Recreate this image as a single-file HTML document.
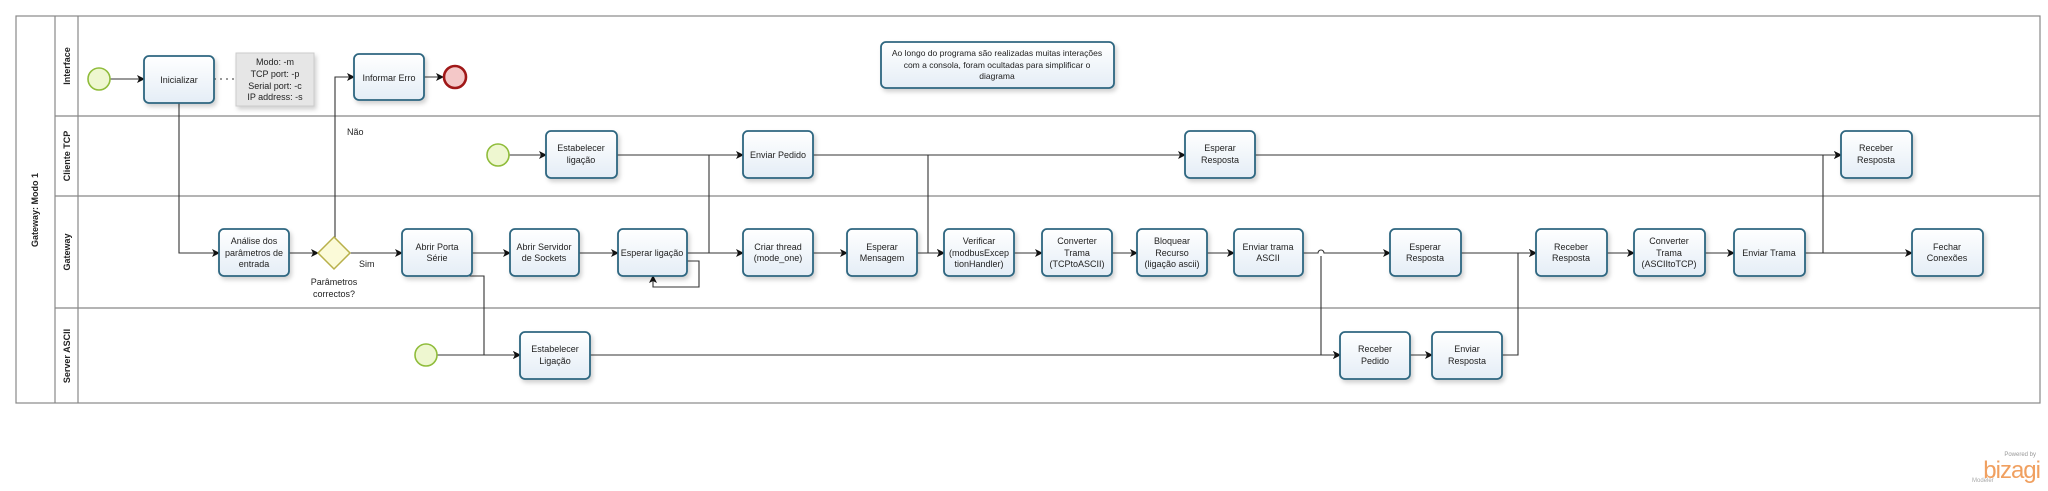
<!DOCTYPE html>
<html><head><meta charset="utf-8"><style>
html,body{margin:0;padding:0;background:#fff;}
svg{display:block;}
text{font-family:"Liberation Sans",sans-serif;font-size:9px;fill:#222;}
.b{fill:url(#g);stroke:#2d6680;stroke-width:1.8;}
.l{fill:none;stroke:#333;stroke-width:1.1;}
.lane{fill:none;stroke:#888;stroke-width:1.2;}
</style></head><body>
<svg width="2048" height="491" viewBox="0 0 2048 491" xmlns="http://www.w3.org/2000/svg">
<defs>
<linearGradient id="g" x1="0" y1="0" x2="0" y2="1"><stop offset="0" stop-color="#ffffff"/><stop offset="1" stop-color="#e4edf6"/></linearGradient>
<marker id="a" markerWidth="8" markerHeight="8" refX="7" refY="4" orient="auto" markerUnits="userSpaceOnUse"><path d="M0,0 L8,4 L0,8 L2,4 z" fill="#111"/></marker>
<filter id="s" x="-20%" y="-20%" width="150%" height="150%"><feDropShadow dx="2" dy="3" stdDeviation="2" flood-color="#000" flood-opacity="0.18"/></filter>
</defs>
<rect x="16" y="16" width="2024" height="387" class="lane"/>
<line x1="55" y1="16" x2="55" y2="403" class="lane"/>
<line x1="78" y1="16" x2="78" y2="403" class="lane"/>
<line x1="55" y1="116" x2="2040" y2="116" class="lane"/>
<line x1="55" y1="196" x2="2040" y2="196" class="lane"/>
<line x1="55" y1="308" x2="2040" y2="308" class="lane"/>
<text transform="translate(38,210) rotate(-90)" text-anchor="middle" style="font-weight:bold">Gateway: Modo 1</text>
<text transform="translate(70,66) rotate(-90)" text-anchor="middle" style="font-weight:bold">Interface</text>
<text transform="translate(70,156) rotate(-90)" text-anchor="middle" style="font-weight:bold">Cliente TCP</text>
<text transform="translate(70,252) rotate(-90)" text-anchor="middle" style="font-weight:bold">Gateway</text>
<text transform="translate(70,356) rotate(-90)" text-anchor="middle" style="font-weight:bold">Server ASCII</text>

<path class="l" d="M110 79 H144" marker-end="url(#a)"/>
<path d="M214 79 H236" stroke="#333" stroke-dasharray="2,4" fill="none"/>
<path class="l" d="M179 103 V253 H219" marker-end="url(#a)"/>
<path class="l" d="M289 253 H318" marker-end="url(#a)"/>
<path class="l" d="M335 238 V77 H354" marker-end="url(#a)"/>
<path class="l" d="M424 77 H443" marker-end="url(#a)"/>
<path class="l" d="M350 253 H402" marker-end="url(#a)"/>
<path class="l" d="M472 253 H510" marker-end="url(#a)"/>
<path class="l" d="M579 253 H618" marker-end="url(#a)"/>
<path class="l" d="M687 261 H699 V287 H653 V276" marker-end="url(#a)"/>
<path class="l" d="M687 253 H743" marker-end="url(#a)"/>
<path class="l" d="M440 276 H484 V355 H520" marker-end="url(#a)"/>
<path class="l" d="M437 355 H520" marker-end="url(#a)"/>
<path class="l" d="M509 155 H546" marker-end="url(#a)"/>
<path class="l" d="M617 155 H743" marker-end="url(#a)"/>
<path class="l" d="M709 155 V253" />
<path class="l" d="M813 155 H1185" marker-end="url(#a)"/>
<path class="l" d="M928 155 V253 H944" marker-end="url(#a)"/>
<path class="l" d="M1255 155 H1841" marker-end="url(#a)"/>
<path class="l" d="M813 253 H847" marker-end="url(#a)"/>
<path class="l" d="M917 253 H944" marker-end="url(#a)"/>
<path class="l" d="M1014 253 H1042" marker-end="url(#a)"/>
<path class="l" d="M1112 253 H1137" marker-end="url(#a)"/>
<path class="l" d="M1207 253 H1234" marker-end="url(#a)"/>
<path class="l" d="M1303 253 H1318 A3 3 0 0 1 1324 253 H1390" marker-end="url(#a)"/>
<path class="l" d="M1321 256 V355 H1340" marker-end="url(#a)"/>
<path class="l" d="M590 355 H1340" marker-end="url(#a)"/>
<path class="l" d="M1410 355 H1432" marker-end="url(#a)"/>
<path class="l" d="M1502 355 H1518 V253 H1536" marker-end="url(#a)"/>
<path class="l" d="M1461 253 H1536" marker-end="url(#a)"/>
<path class="l" d="M1607 253 H1634" marker-end="url(#a)"/>
<path class="l" d="M1705 253 H1734" marker-end="url(#a)"/>
<path class="l" d="M1805 253 H1912" marker-end="url(#a)"/>
<path class="l" d="M1823 253 V155 H1841" marker-end="url(#a)"/>
<path d="M881 264 V276" stroke="#333" stroke-dasharray="1,3"/>

<circle cx="99" cy="79" r="11" fill="#eef7d0" stroke="#8fbc3a" stroke-width="1.6"/>
<circle cx="498" cy="155" r="11" fill="#eef7d0" stroke="#8fbc3a" stroke-width="1.6"/>
<circle cx="426" cy="355" r="11" fill="#eef7d0" stroke="#8fbc3a" stroke-width="1.6"/>
<circle cx="455" cy="77" r="11" fill="#f4c8c8" stroke="#a01818" stroke-width="2.6"/>
<path d="M334 237 L350 253 L334 269 L318 253 z" fill="#fbfad8" stroke="#b8b04a" stroke-width="1.5"/>
<text x="347" y="135">Não</text>
<text x="359" y="267">Sim</text>
<text x="334" y="285" text-anchor="middle">Parâmetros</text>
<text x="334" y="297" text-anchor="middle">correctos?</text>

<rect x="236" y="53" width="78" height="53" fill="#e6e6e6" stroke="#ccc" filter="url(#s)"/>
<g text-anchor="middle"><text x="275" y="65">Modo: -m</text><text x="275" y="77">TCP port: -p</text><text x="275" y="89">Serial port: -c</text><text x="275" y="100">IP address: -s</text></g>
<rect x="881" y="42" width="233" height="46" rx="5" class="b" filter="url(#s)"/>
<g text-anchor="middle" style="font-size:8.5px"><text x="997" y="56" style="font-size:8.5px">Ao longo do programa são realizadas muitas interações</text><text x="997" y="68" style="font-size:8.5px">com a consola, foram ocultadas para simplificar o</text><text x="997" y="79" style="font-size:8.5px">diagrama</text></g>

<g filter="url(#s)">
<rect x="144" y="56" width="70" height="47" rx="5" class="b"/>
<rect x="354" y="54" width="70" height="46" rx="5" class="b"/>
<rect x="546" y="131" width="71" height="47" rx="5" class="b"/>
<rect x="743" y="131" width="70" height="47" rx="5" class="b"/>
<rect x="1185" y="131" width="70" height="47" rx="5" class="b"/>
<rect x="1841" y="131" width="71" height="47" rx="5" class="b"/>
<rect x="219" y="229" width="70" height="47" rx="5" class="b"/>
<rect x="402" y="229" width="70" height="47" rx="5" class="b"/>
<rect x="510" y="229" width="69" height="47" rx="5" class="b"/>
<rect x="618" y="229" width="69" height="47" rx="5" class="b"/>
<rect x="743" y="229" width="70" height="47" rx="5" class="b"/>
<rect x="847" y="229" width="70" height="47" rx="5" class="b"/>
<rect x="944" y="229" width="70" height="47" rx="5" class="b"/>
<rect x="1042" y="229" width="70" height="47" rx="5" class="b"/>
<rect x="1137" y="229" width="70" height="47" rx="5" class="b"/>
<rect x="1234" y="229" width="69" height="47" rx="5" class="b"/>
<rect x="1390" y="229" width="71" height="47" rx="5" class="b"/>
<rect x="1536" y="229" width="71" height="47" rx="5" class="b"/>
<rect x="1634" y="229" width="71" height="47" rx="5" class="b"/>
<rect x="1734" y="229" width="71" height="47" rx="5" class="b"/>
<rect x="1912" y="229" width="71" height="47" rx="5" class="b"/>
<rect x="520" y="332" width="70" height="47" rx="5" class="b"/>
<rect x="1340" y="332" width="70" height="47" rx="5" class="b"/>
<rect x="1432" y="332" width="70" height="47" rx="5" class="b"/>
</g>
<g text-anchor="middle">
<text x="179" y="83">Inicializar</text>
<text x="389" y="81">Informar Erro</text>
<text x="581" y="151">Estabelecer</text><text x="581" y="163">ligação</text>
<text x="778" y="158">Enviar Pedido</text>
<text x="1220" y="151">Esperar</text><text x="1220" y="163">Resposta</text>
<text x="1876" y="151">Receber</text><text x="1876" y="163">Resposta</text>
<text x="254" y="244">Análise dos</text><text x="254" y="256">parâmetros de</text><text x="254" y="267">entrada</text>
<text x="437" y="250">Abrir  Porta</text><text x="437" y="261">Série</text>
<text x="544" y="250">Abrir Servidor</text><text x="544" y="261">de Sockets</text>
<text x="652" y="256">Esperar ligação</text>
<text x="778" y="250">Criar thread</text><text x="778" y="261">(mode_one)</text>
<text x="882" y="250">Esperar</text><text x="882" y="261">Mensagem</text>
<text x="979" y="244">Verificar</text><text x="979" y="256">(modbusExcep</text><text x="979" y="267">tionHandler)</text>
<text x="1077" y="244">Converter</text><text x="1077" y="256">Trama</text><text x="1077" y="267">(TCPtoASCII)</text>
<text x="1172" y="244">Bloquear</text><text x="1172" y="256">Recurso</text><text x="1172" y="267">(ligação ascii)</text>
<text x="1268" y="250">Enviar trama</text><text x="1268" y="261">ASCII</text>
<text x="1425" y="250">Esperar</text><text x="1425" y="261">Resposta</text>
<text x="1571" y="250">Receber</text><text x="1571" y="261">Resposta</text>
<text x="1669" y="244">Converter</text><text x="1669" y="256">Trama</text><text x="1669" y="267">(ASCIItoTCP)</text>
<text x="1769" y="256">Enviar Trama</text>
<text x="1947" y="250">Fechar</text><text x="1947" y="261">Conexões</text>
<text x="555" y="352">Estabelecer</text><text x="555" y="364">Ligação</text>
<text x="1375" y="352">Receber</text><text x="1375" y="364">Pedido</text>
<text x="1467" y="352">Enviar</text><text x="1467" y="364">Resposta</text>
</g>
<text x="2036" y="456" text-anchor="end" style="font-size:6px;fill:#999">Powered by</text>
<text x="2040" y="478" text-anchor="end" style="font-size:24px;fill:#f0a060;letter-spacing:-1px">bizagi</text>
<text x="1972" y="482" style="font-size:6px;fill:#aaa">Modeler</text>
</svg>
</body></html>
